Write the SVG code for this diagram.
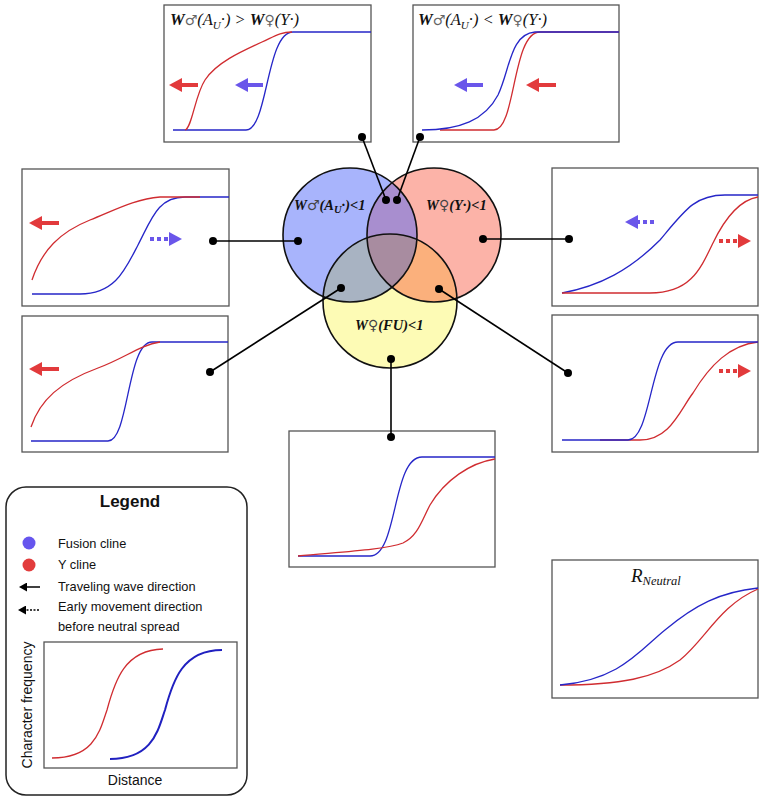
<svg xmlns="http://www.w3.org/2000/svg" width="765" height="800" viewBox="0 0 765 800">
<style>
.box{fill:#fff;stroke:#555;stroke-width:1.3}
.bl{fill:none;stroke:#2626c8;stroke-width:1.3}
.rd{fill:none;stroke:#d02c30;stroke-width:1.3}
.ar{stroke:#e23a3c;stroke-width:4;fill:none}
.ab{stroke:#6a56ea;stroke-width:4;fill:none}
.dot{stroke-dasharray:4,3}
.con{stroke:#000;stroke-width:1.6;fill:none}
.cd{fill:#000}
.ttl{font-family:"Liberation Serif",serif;font-style:italic;font-size:16.5px;fill:#111}
.sym{font-family:"DejaVu Sans",sans-serif;font-style:normal;font-size:14px;fill:#666}
.vsym{font-family:"DejaVu Sans",sans-serif;font-style:normal;font-weight:normal;font-size:14px;fill:#444}
.vl{font-family:"Liberation Serif",serif;font-style:italic;font-weight:bold;font-size:14.5px;fill:#111}
.lg{font-family:"Liberation Sans",Arial,sans-serif;font-size:12.8px;fill:#111}
.ring{fill:none;stroke:#111;stroke-width:1.6}
</style>
<defs>
<marker id="hr" markerWidth="14" markerHeight="14" refX="1" refY="7" orient="auto" markerUnits="userSpaceOnUse"><path d="M0,0 L13,7 L0,14 z" fill="#e23a3c"/></marker>
<marker id="hb" markerWidth="14" markerHeight="14" refX="1" refY="7" orient="auto" markerUnits="userSpaceOnUse"><path d="M0,0 L13,7 L0,14 z" fill="#6a56ea"/></marker>
<marker id="hk" markerWidth="9" markerHeight="9" refX="1" refY="4.5" orient="auto" markerUnits="userSpaceOnUse"><path d="M0,0 L8,4.5 L0,9 z" fill="#000"/></marker>
<clipPath id="cB"><circle cx="350" cy="235" r="67"/></clipPath>
<clipPath id="cR"><circle cx="434" cy="235" r="67"/></clipPath>
</defs>
<rect width="765" height="800" fill="#fff"/>

<g id="box-top-left">
<rect class="box" x="164" y="5" width="207" height="137"/>
<text class="ttl" x="170" y="25"><tspan font-weight="bold">W</tspan><tspan class="sym">♂</tspan>(A<tspan font-size="11" dy="4">U</tspan><tspan dy="-4">·) &gt; </tspan><tspan font-weight="bold">W</tspan><tspan class="sym">♀</tspan>(Y·)</text>
<path class="bl" d="M173,130 L246,130 C268,130 266,32 293,32 L371,32"/>
<path class="rd" d="M185,130 C192,128 195,95 205,80 C216,63 240,52 262,42 C275,36 280,32 292,32"/>
<line class="ar" x1="198" y1="85" x2="181" y2="85" marker-end="url(#hr)"/>
<line class="ab" x1="263" y1="85" x2="247" y2="85" marker-end="url(#hb)"/>
</g>

<g id="box-top-right">
<rect class="box" x="413" y="5" width="206" height="137"/>
<text class="ttl" x="418" y="25"><tspan font-weight="bold">W</tspan><tspan class="sym">♂</tspan>(A<tspan font-size="11" dy="4">U</tspan><tspan dy="-4">·) &lt; </tspan><tspan font-weight="bold">W</tspan><tspan class="sym">♀</tspan>(Y·)</text>
<path class="rd" d="M440,130 L494,130 C516,130 512,32 540,32 L619,32"/>
<path class="bl" d="M422,130 C460,130 485,120 498,95 C510,70 510,34 535,32 L619,32"/>
<line class="ab" x1="483" y1="85" x2="466" y2="85" marker-end="url(#hb)"/>
<line class="ar" x1="556" y1="85" x2="538" y2="85" marker-end="url(#hr)"/>
</g>

<g id="box-left-upper">
<rect class="box" x="22" y="169" width="207" height="137"/>
<path class="bl" d="M32,294 L80,294 C115,294 125,270 138,245 C152,218 158,197 185,197 L229,197"/>
<path class="rd" d="M32,280 C42,250 60,232 90,220 C115,210 135,199 160,197 L200,197"/>
<line class="ar" x1="59" y1="223" x2="41" y2="223" marker-end="url(#hr)"/>
<line class="ab dot" x1="150" y1="239" x2="170" y2="239" marker-end="url(#hb)"/>
</g>

<g id="box-left-lower">
<rect class="box" x="22" y="316" width="206" height="136"/>
<path class="bl" d="M31,441 L108,441 C129,441 127,342 152,342 L228,342"/>
<path class="rd" d="M31,427 C40,400 60,382 98,368 C125,358 140,345 160,342"/>
<line class="ar" x1="59" y1="369" x2="41" y2="369" marker-end="url(#hr)"/>
</g>

<g id="box-right-upper">
<rect class="box" x="552" y="168" width="206" height="138"/>
<path class="bl" d="M562,293 C600,286 630,270 660,240 C685,210 695,195 725,195 L758,195"/>
<path class="rd" d="M562,293 L650,293 C690,293 700,270 713,243 C725,218 740,200 758,197"/>
<line class="ab dot" x1="654" y1="222" x2="637" y2="222" marker-end="url(#hb)"/>
<line class="ar dot" x1="719" y1="241" x2="739" y2="241" marker-end="url(#hr)"/>
</g>

<g id="box-right-lower">
<rect class="box" x="552" y="315" width="206" height="137"/>
<path class="rd" d="M600,440 L640,440 C670,440 680,410 693,393 C710,365 730,345 758,342"/>
<path class="bl" d="M562,440 L628,440 C652,440 650,342 678,342 L758,342"/>
<line class="ar dot" x1="719" y1="371" x2="739" y2="371" marker-end="url(#hr)"/>
</g>

<g id="box-bottom">
<rect class="box" x="289" y="431" width="206" height="136"/>
<path class="bl" d="M298,556 L370,556 C398,556 392,457 422,457 L495,457"/>
<path class="rd" d="M298,556 C340,552 385,550 403,543 C418,536 422,520 430,505 C445,480 470,463 495,459"/>
</g>

<g id="box-neutral">
<rect class="box" x="552" y="560" width="206" height="138"/>
<text x="631" y="582" font-family="Liberation Serif,serif" font-style="italic" font-size="19" fill="#111">R<tspan font-size="12.5" dy="3">Neutral</tspan></text>
<path class="rd" d="M560,685 C620,685 655,678 680,660 C705,640 720,605 758,589"/>
<path class="bl" d="M560,685 C620,680 640,650 665,630 C695,605 720,592 758,588"/>
</g>

<g id="venn">
<circle cx="350" cy="235" r="67" fill="#a8b4fc"/>
<circle cx="434" cy="235" r="67" fill="#fcb3a8"/>
<circle cx="390" cy="301" r="67" fill="#fdfbb5"/>
<g clip-path="url(#cB)"><circle cx="434" cy="235" r="67" fill="#a88ecf"/></g>
<g clip-path="url(#cB)"><circle cx="390" cy="301" r="67" fill="#a8b3c2"/></g>
<g clip-path="url(#cR)"><circle cx="390" cy="301" r="67" fill="#fbb07c"/></g>
<g clip-path="url(#cB)"><g clip-path="url(#cR)"><circle cx="390" cy="301" r="67" fill="#a88ca0"/></g></g>
<circle class="ring" cx="350" cy="235" r="67"/>
<circle class="ring" cx="434" cy="235" r="67"/>
<circle class="ring" cx="390" cy="301" r="67"/>
<text class="vl" x="294" y="210">W<tspan class="vsym">♂</tspan>(A<tspan font-size="10.5" dy="3">U</tspan><tspan dy="-3">·)&lt;1</tspan></text>
<text class="vl" x="426" y="210">W<tspan class="vsym">♀</tspan>(Y·)&lt;1</text>
<text class="vl" x="355" y="330">W<tspan class="vsym">♀</tspan>(FU)&lt;1</text>
</g>

<g id="connectors">
<line class="con" x1="362" y1="137" x2="386" y2="200"/>
<line class="con" x1="420" y1="137" x2="397" y2="200"/>
<line class="con" x1="213" y1="241" x2="298" y2="241"/>
<line class="con" x1="483" y1="239" x2="569" y2="239"/>
<line class="con" x1="210" y1="372" x2="341" y2="288"/>
<line class="con" x1="439" y1="289" x2="568" y2="373"/>
<line class="con" x1="391" y1="359" x2="391" y2="437"/>
<circle class="cd" cx="362" cy="137" r="4"/>
<circle class="cd" cx="420" cy="137" r="4"/>
<circle class="cd" cx="386" cy="200" r="4"/>
<circle class="cd" cx="397" cy="200" r="4"/>
<circle class="cd" cx="213" cy="241" r="4"/>
<circle class="cd" cx="298" cy="241" r="4"/>
<circle class="cd" cx="483" cy="239" r="4"/>
<circle class="cd" cx="569" cy="239" r="4"/>
<circle class="cd" cx="210" cy="372" r="4"/>
<circle class="cd" cx="341" cy="288" r="4"/>
<circle class="cd" cx="439" cy="289" r="4"/>
<circle class="cd" cx="568" cy="373" r="4"/>
<circle class="cd" cx="391" cy="359" r="4"/>
<circle class="cd" cx="391" cy="437" r="4"/>
</g>

<g id="legend">
<rect x="6" y="487" width="241" height="308" rx="20" fill="#fff" stroke="#222" stroke-width="1.5"/>
<text x="130" y="507" text-anchor="middle" font-family="Liberation Sans,Arial,sans-serif" font-weight="bold" font-size="17" fill="#111">Legend</text>
<circle cx="29" cy="543" r="6.5" fill="#6655ee"/>
<circle cx="29" cy="565" r="6.5" fill="#e23c3c"/>
<text class="lg" x="58" y="548">Fusion cline</text>
<text class="lg" x="58" y="569">Y cline</text>
<text class="lg" x="58" y="591">Traveling wave direction</text>
<text class="lg" x="58" y="611">Early movement direction</text>
<text class="lg" x="58" y="631">before neutral spread</text>
<line x1="40" y1="587" x2="26" y2="587" stroke="#000" stroke-width="1.5" marker-end="url(#hk)"/>
<line x1="39" y1="610" x2="25" y2="610" stroke="#000" stroke-width="1.5" stroke-dasharray="2,1.5" marker-end="url(#hk)"/>
<rect class="box" x="44" y="642" width="193" height="126"/>
<path class="rd" d="M52,758 C95,758 100,730 107,710 C115,680 125,650 163,649"/>
<path fill="none" stroke="#2020c0" stroke-width="2" d="M110,759 C153,759 158,730 165,710 C173,680 183,650 222,650"/>
<text x="32" y="705" transform="rotate(-90 32 705)" text-anchor="middle" font-family="Liberation Sans,Arial,sans-serif" font-size="14" fill="#111">Character frequency</text>
<text x="135" y="785" text-anchor="middle" font-family="Liberation Sans,Arial,sans-serif" font-size="14" fill="#111">Distance</text>
</g>
</svg>
